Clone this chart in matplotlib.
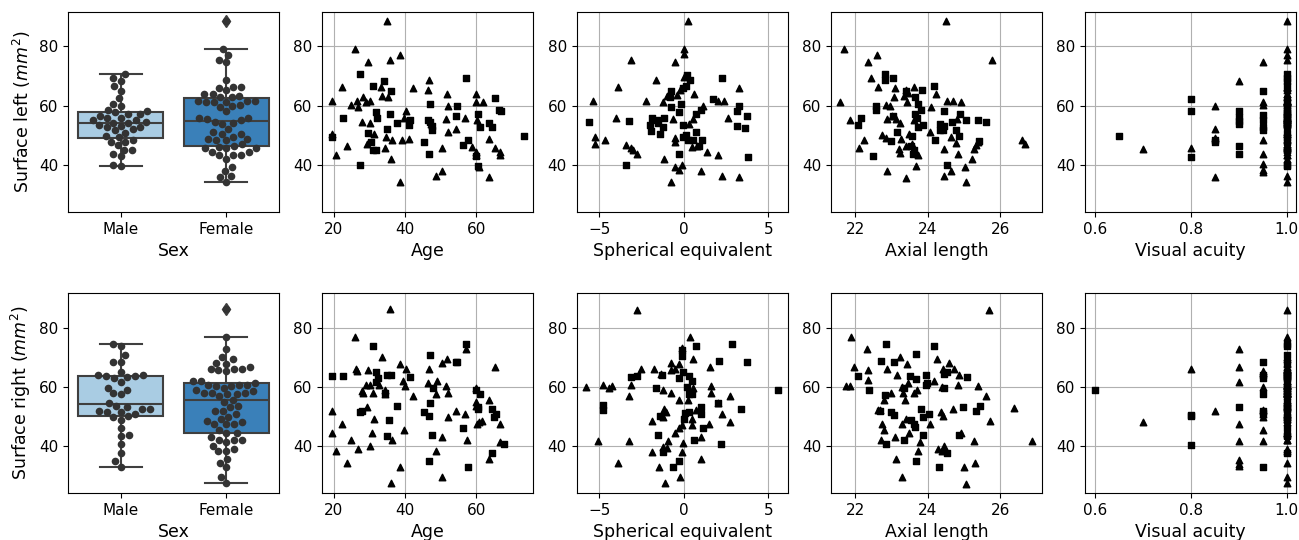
import numpy as np
import matplotlib
matplotlib.use("Agg")
import matplotlib.pyplot as plt
import seaborn as sns

# ---- datos ----
sexes = ["Male", "Female"]

# Superficie izquierda por sexo (fila superior) y edad
age_top_m = [27.2, 27.2, 22.4, 19.5, 30.9, 34.1, 36.0, 31.8, 32.2, 35.7, 34.9, 29.6, 30.5, 30.9,
             31.9, 37.7, 41.3, 41.2, 45.4, 46.8, 47.1, 46.3, 46.9, 47.6, 47.7, 54.2, 54.6, 56.3,
             57.0, 57.8, 59.9, 60.6, 61.1, 60.5, 65.2, 63.6, 64.4, 66.5, 67.0, 73.4]
left_m = [39.8, 70.6, 55.9, 49.4, 66.5, 68.4, 65.0, 57.8, 55.9, 57.1, 51.9, 50.8, 47.7, 45.1,
          45.1, 54.2, 55.0, 53.4, 47.8, 43.7, 60.5, 55.0, 54.4, 53.2, 51.6, 56.6, 59.9, 46.5,
          69.3, 48.3, 42.8, 57.2, 52.7, 39.4, 62.4, 54.2, 52.6, 58.6, 58.3, 49.8]
age_top_f = [34.8, 25.9, 29.6, 38.5, 35.7, 22.2, 19.5, 24.9, 26.5, 26.8, 28.2, 30.1, 29.1, 33.2,
             33.4, 35.2, 27.9, 30.0, 31.3, 29.3, 23.7, 20.5, 19.4, 34.5, 36.2, 34.3, 36.0, 38.6,
             39.2, 40.3, 39.6, 41.0, 42.2, 46.8, 46.5, 47.4, 48.6, 50.4, 50.4, 51.8, 52.0, 51.4,
             52.0, 54.2, 56.9, 58.8, 59.9, 60.0, 60.2, 60.0, 60.0, 60.9, 61.9, 63.6, 63.6, 65.2,
             66.7, 66.6]
left_f = [88.7, 79.2, 74.7, 77.2, 75.5, 66.3, 61.4, 60.1, 61.7, 59.4, 62.9, 61.6, 61.2, 66.3,
          63.4, 62.8, 54.5, 54.1, 50.5, 47.0, 46.4, 43.2, 50.4, 49.4, 48.2, 45.5, 42.0, 34.0,
          48.5, 58.0, 55.7, 48.8, 66.1, 68.5, 65.1, 53.9, 36.1, 37.9, 45.5, 63.9, 59.7, 55.5,
          50.9, 52.1, 55.8, 46.1, 61.1, 63.9, 55.2, 44.2, 43.4, 39.1, 61.1, 48.8, 35.7, 45.6,
          44.3, 43.4]

# Superficie derecha por sexo (fila inferior) y edad
age_bot_m = [19.4, 22.4, 31.1, 31.9, 32.5, 31.7, 34.3, 34.9, 35.9, 27.3, 27.9, 35.6, 34.9, 37.7,
             41.5, 47.1, 45.4, 46.6, 47.0, 47.6, 46.7, 47.8, 54.4, 54.7, 56.3, 57.0, 57.8, 60.0,
             61.1, 60.5, 60.4, 64.5, 64.9, 65.6, 64.5, 67.8]
right_m = [63.5, 63.5, 73.7, 65.0, 62.8, 61.6, 57.7, 63.9, 64.1, 51.5, 51.8, 48.7, 43.3, 53.6,
           63.3, 70.6, 51.5, 50.0, 54.5, 43.8, 34.8, 59.7, 68.4, 68.4, 46.1, 74.4, 32.9, 59.0,
           57.5, 53.2, 52.3, 52.4, 49.8, 50.7, 37.6, 40.6]
age_bot_f = [35.7, 25.9, 33.4, 26.3, 26.6, 29.6, 28.0, 28.3, 29.1, 30.1, 31.1, 32.8, 34.3, 34.4,
             38.5, 39.4, 39.9, 40.3, 42.2, 19.4, 19.5, 20.5, 22.2, 23.7, 24.8, 26.8, 29.3, 31.3,
             30.6, 30.0, 36.2, 39.6, 38.6, 36.0, 46.5, 46.7, 49.1, 48.8, 50.3, 51.8, 51.4, 52.0,
             52.0, 54.2, 50.4, 48.6, 50.4, 56.8, 57.5, 57.0, 59.8, 60.0, 60.2, 60.7, 61.5, 63.6,
             63.6, 65.4, 66.7, 66.6, 60.0]
right_f = [86.2, 76.7, 70.0, 66.0, 65.2, 65.6, 58.6, 57.7, 60.5, 60.7, 57.7, 60.5, 59.0, 57.4,
           67.8, 62.0, 60.3, 65.8, 56.9, 51.8, 44.4, 38.2, 47.3, 34.3, 42.0, 38.9, 53.0, 49.2,
           44.2, 40.0, 42.0, 45.3, 32.9, 27.3, 61.1, 65.8, 61.9, 57.5, 68.1, 69.2, 60.2, 57.9,
           49.8, 51.7, 43.0, 38.2, 29.3, 50.7, 42.0, 72.9, 59.7, 53.4, 47.3, 47.9, 48.3, 55.4,
           35.5, 66.7, 47.3, 41.4, 54.9]

# Equivalente esférico
se_top_m_x = [-5.63, -3.25, -3.39, 2.24, 0.22, 0.37, -0.77, -0.79, -0.75, -0.14, 1.71, 3.29,
              3.13, 3.76, 3.13, 3.62, 3.78, -1.87, -1.59, -1.14, -1.99, -1.54, -1.91, -1.24,
              -1.40, -0.28, -0.04, 0.71, 1.02, -0.02, 0.26, 0.53, 1.08, 0.89, -0.26, 0.14,
              0.75, -0.04, 0.16]
se_top_m_y = [54.3, 54.9, 39.9, 69.3, 70.4, 68.7, 65.0, 62.8, 59.5, 60.6, 62.3, 59.9, 58.1, 56.6,
              53.2, 52.5, 42.6, 55.9, 55.0, 55.8, 53.5, 54.1, 51.5, 52.6, 50.3, 57.7, 53.5, 57.1,
              58.6, 49.2, 48.2, 48.5, 48.2, 46.4, 43.7, 50.1, 50.9, 66.1, 66.7]
se_top_f_x = [0.24, 0.0, 0.0, -3.13, -0.49, -1.63, -3.88, 3.25, -5.37, -2.24, -1.24, -0.96,
              -0.37, -0.22, 0.63, 1.12, 2.38, 2.05, 2.64, -4.02, -0.61, 0.53, 0.33, -5.26, -5.26,
              -4.63, -3.39, -3.11, -3.01, -2.76, -0.49, -0.49, 0.47, 0.77, 1.38, 2.01, -1.14,
              -0.51, -0.26, -0.12, -0.75, 1.0, 2.24, 3.27, 0.02]
se_top_f_y = [88.7, 79.2, 77.4, 75.5, 74.7, 68.5, 66.3, 66.1, 61.4, 61.6, 61.3, 63.1, 63.5, 65.1,
              63.9, 59.7, 61.7, 61.4, 55.8, 55.8, 55.5, 55.4, 53.9, 49.5, 46.9, 48.5, 46.5, 45.5,
              44.8, 43.7, 49.0, 47.6, 46.0, 46.2, 44.2, 43.2, 42.0, 39.1, 38.1, 39.8, 34.0, 37.9,
              36.1, 35.7, 69.5]
se_bot_m_x = [-4.78, -4.78, -3.11, -2.78, -1.28, -1.63, -0.12, -0.12, 0.73, 2.85, 3.74, 2.11,
              5.59, -0.28, -0.02, 0.33, 0.47, 0.18, 0.33, 0.47, 2.01, 3.37, 1.0, 1.0, 0.33,
              0.10, 0.0, 1.12, 0.61, -1.40, -1.54, -1.24, 2.22, -0.26, -0.61]
se_bot_m_y = [53.7, 52.0, 63.3, 63.7, 63.9, 59.6, 72.3, 70.3, 73.7, 74.4, 68.2, 68.6, 59.0, 63.0,
              65.0, 63.5, 61.9, 59.9, 57.4, 57.5, 54.5, 52.4, 53.2, 50.6, 51.5, 51.2, 49.0, 46.1,
              42.1, 50.1, 43.8, 38.0, 40.6, 34.8, 32.9]
se_bot_f_x = [-2.78, 0.37, -0.12, 0.53, -2.50, -1.75, -0.75, -0.75, -0.49, -0.30, 1.56, -5.77,
              -4.78, -4.41, -4.25, -3.13, -3.25, -1.36, -1.24, -0.77, -0.28, 0.26, 0.57, 1.61,
              1.61, 2.74, 2.01, 2.24, 2.74, -1.87, -1.14, -1.04, -1.20, 0.71, 0.51, 0.51, 1.52,
              -0.49, -0.28, -0.12, 1.0, -5.08, -3.25, -1.87, -1.20, -0.91, -1.0, -0.06, -0.12,
              -3.88, -1.48, 1.0, -1.12, -0.22]
se_bot_f_y = [85.9, 76.8, 73.1, 69.2, 66.0, 65.8, 68.1, 65.6, 66.0, 67.5, 66.7, 59.9, 60.7, 59.6,
              60.3, 60.5, 56.9, 64.2, 59.0, 57.9, 55.4, 55.4, 59.7, 60.2, 57.9, 56.8, 54.5, 50.8,
              48.1, 48.3, 52.3, 51.5, 49.8, 52.1, 49.2, 47.0, 47.2, 44.2, 45.9, 47.0, 43.0, 41.7,
              41.7, 38.0, 39.7, 41.7, 39.1, 41.0, 38.0, 34.3, 32.9, 35.4, 27.3, 29.3]

# Longitud axial
al_top_m_x = [22.50, 22.08, 22.15, 22.58, 22.58, 22.83, 22.83, 23.03, 23.04, 22.99, 23.15, 23.40,
              23.65, 23.83, 23.74, 23.81, 23.64, 23.70, 23.73, 23.86, 23.57, 23.54, 23.62, 23.59,
              24.17, 24.21, 24.45, 24.33, 24.45, 24.33, 24.42, 24.68, 24.77, 24.89, 24.85, 25.05,
              25.39, 25.61, 24.54, 25.41]
al_top_m_y = [42.8, 53.3, 55.9, 59.9, 58.4, 70.8, 68.7, 69.3, 56.6, 47.9, 50.9, 64.8, 62.9, 65.1,
              60.6, 58.6, 57.2, 55.8, 52.7, 53.4, 49.6, 46.4, 45.1, 43.7, 66.7, 48.2, 58.0, 53.9,
              53.2, 51.8, 51.8, 54.6, 51.8, 57.2, 49.8, 55.0, 55.0, 54.3, 40.0, 47.9]
al_top_f_x = [24.50, 21.68, 22.61, 22.35, 25.76, 22.43, 22.62, 21.59, 21.86, 22.10, 22.25, 22.86,
              22.95, 23.10, 23.06, 22.87, 23.02, 23.11, 23.22, 22.73, 22.84, 23.27, 23.20, 23.22,
              22.87, 23.40, 23.40, 23.47, 23.33, 23.39, 23.46, 23.44, 23.62, 23.61, 23.72, 23.68,
              23.56, 24.10, 24.06, 24.22, 24.44, 24.53, 24.69, 24.92, 24.80, 24.64, 24.77, 24.83,
              24.64, 24.45, 25.02, 25.05, 25.21, 25.28, 25.33, 25.39, 26.61, 26.68]
al_top_f_y = [88.7, 79.2, 77.2, 74.6, 75.5, 69.4, 66.3, 61.2, 55.2, 45.6, 48.5, 60.3, 59.7, 66.1,
              62.9, 55.4, 56.3, 55.5, 54.1, 50.1, 49.0, 48.7, 45.3, 43.9, 37.7, 35.5, 46.2, 50.5,
              63.3, 65.1, 64.2, 61.2, 66.3, 55.0, 43.2, 39.7, 47.1, 59.4, 50.9, 63.9, 45.4, 61.6,
              61.6, 61.3, 55.5, 49.4, 47.3, 43.7, 37.9, 36.1, 39.1, 34.0, 42.0, 45.4, 46.5, 47.7,
              48.5, 47.0]
al_bot_m_x = [22.08, 22.39, 22.71, 22.86, 23.06, 22.83, 22.69, 22.99, 23.08, 22.85, 23.33, 23.52,
              23.67, 23.67, 23.33, 23.81, 23.53, 23.63, 23.65, 23.88, 24.02, 23.86, 23.96, 23.99,
              23.94, 24.16, 24.45, 24.52, 24.45, 25.09, 24.96, 25.44, 25.33, 24.87, 24.54, 24.31,
              23.68]
al_bot_m_y = [63.5, 59.0, 68.6, 74.4, 68.2, 57.1, 51.8, 51.3, 50.4, 40.6, 42.1, 63.5, 70.9, 62.5,
              59.7, 52.3, 48.7, 47.2, 46.2, 49.8, 50.6, 43.8, 64.1, 61.1, 60.5, 73.7, 64.2, 65.0,
              59.4, 63.3, 53.2, 53.4, 51.7, 43.5, 37.6, 32.9, 34.8]
al_bot_f_x = [25.70, 21.89, 22.32, 21.97, 22.35, 22.34, 21.75, 21.86, 22.87, 23.22, 23.15, 23.44,
              22.98, 22.78, 22.63, 22.69, 23.29, 23.32, 23.37, 23.45, 23.70, 23.63, 23.39, 23.28,
              23.48, 22.74, 22.78, 22.71, 23.10, 23.11, 23.29, 23.72, 23.79, 24.05, 24.18, 24.25,
              24.39, 24.36, 24.42, 24.43, 24.59, 24.73, 24.87, 24.83, 24.69, 24.91, 24.28, 24.45,
              24.39, 25.01, 25.06, 25.27, 25.31, 25.38, 25.60, 25.72, 26.38, 26.89]
al_bot_f_y = [85.9, 76.8, 72.9, 66.7, 65.6, 62.2, 60.2, 60.2, 65.9, 69.9, 64.1, 67.6, 57.9, 55.4,
              52.1, 52.1, 59.9, 57.7, 55.4, 61.1, 59.0, 57.7, 49.2, 47.2, 44.4, 47.3, 45.3, 41.9,
              43.0, 35.5, 29.3, 38.2, 41.1, 47.3, 61.9, 69.2, 59.9, 51.5, 50.0, 65.8, 68.1, 65.8,
              63.9, 60.5, 52.4, 44.2, 38.9, 40.0, 38.2, 32.9, 27.0, 41.7, 34.0, 60.1, 57.0, 48.3,
              52.8, 41.7]

# Agudeza visual
va_top_m_x = [0.65, 0.80, 0.80, 0.80, 0.85, 0.85, 0.90, 0.90, 0.90, 0.90, 0.90, 0.90, 0.95, 0.95,
              0.95, 0.95, 0.95] + [1.0] * 23
va_top_m_y = [49.8, 62.3, 58.0, 42.7, 48.2, 47.5, 58.3, 56.0, 54.8, 53.9, 46.4, 43.5, 65.0, 56.8,
              55.0, 52.7, 51.6, 70.6, 69.3, 68.4, 66.5, 60.5, 59.9, 57.8, 57.2, 57.1, 55.9, 55.9,
              55.0, 54.4, 54.2, 53.4, 53.2, 50.8, 49.4, 47.7, 45.1, 45.1, 39.8, 39.4]
va_top_f_x = [0.70, 0.80, 0.85, 0.85, 0.85, 0.85, 0.90, 0.95, 0.95, 0.95, 0.95, 0.95, 0.95, 0.95,
              0.95] + [1.0] * 43
va_top_f_y = [45.4, 45.6, 59.7, 51.9, 49.0, 35.7, 68.4, 74.6, 61.2, 60.1, 48.2, 43.5, 40.2, 38.2,
              37.6, 88.7, 79.2, 77.2, 75.5, 66.3, 66.3, 66.1, 65.1, 63.9, 63.9, 63.4, 62.9, 62.8,
              61.7, 61.6, 61.4, 61.1, 61.1, 60.1, 59.4, 58.0, 55.8, 55.7, 55.5, 55.2, 54.5, 54.1,
              53.9, 50.9, 50.5, 50.4, 48.8, 48.5, 47.0, 46.4, 46.1, 45.5, 44.3, 43.4, 43.2, 42.0,
              36.1, 34.0]
va_bot_m_x = [0.60, 0.80, 0.80, 0.80, 0.90, 0.95, 0.95, 0.95, 0.95, 0.95, 0.95, 0.95] + [1.0] * 25
va_bot_m_y = [59.0, 50.4, 49.9, 40.3, 53.2, 68.3, 64.1, 63.0, 57.4, 51.8, 51.0, 32.9, 74.4, 73.7,
              70.6, 68.4, 65.0, 63.9, 63.5, 63.5, 63.3, 62.8, 61.6, 59.7, 57.7, 57.5, 54.5, 53.6,
              52.4, 52.3, 50.0, 49.8, 48.7, 46.1, 43.8, 43.3, 37.6]
va_bot_f_x = [0.70, 0.80, 0.85, 0.90, 0.90, 0.90, 0.90, 0.90, 0.90, 0.90, 0.90, 0.95, 0.95, 0.95,
              0.95, 0.95, 0.95, 0.95, 0.95] + [1.0] * 44
va_bot_f_y = [48.2, 65.9, 51.7, 72.9, 66.5, 61.7, 47.3, 41.7, 35.2, 33.9, 33.0, 65.2, 64.5, 59.9,
              52.0, 50.9, 49.6, 45.3, 41.7, 85.9, 76.7, 70.0, 69.2, 68.1, 67.8, 66.7, 66.0, 65.8,
              65.6, 62.0, 61.9, 61.1, 60.7, 60.5, 60.5, 60.3, 60.2, 59.7, 59.0, 58.6, 57.9, 57.7,
              57.7, 57.5, 57.4, 56.9, 55.4, 54.9, 53.4, 53.0, 50.7, 49.8, 49.2, 47.9, 44.4, 44.2,
              42.0, 42.0, 38.9, 38.2, 34.3, 29.3, 27.3]

xticks_cols = [[20, 40, 60], [-5, 0, 5], [22, 24, 26], [0.6, 0.8, 1.0]]

box_colors = ["#a9cce3", "#3a80b9"]
line_col = "#3f3f3f"

fig, axes = plt.subplots(2, 5, figsize=(12.99, 5.4), dpi=100)
plt.subplots_adjust(left=0.0523, right=0.998, top=0.978, bottom=0.087, wspace=0.204, hspace=0.405)

rows = [
    ("Surface left ($mm^2$)", left_m, left_f, [
        ("Age", age_top_m, left_m, age_top_f, left_f),
        ("Spherical equivalent", se_top_m_x, se_top_m_y, se_top_f_x, se_top_f_y),
        ("Axial length", al_top_m_x, al_top_m_y, al_top_f_x, al_top_f_y),
        ("Visual acuity", va_top_m_x, va_top_m_y, va_top_f_x, va_top_f_y),
    ]),
    ("Surface right ($mm^2$)", right_m, right_f, [
        ("Age", age_bot_m, right_m, age_bot_f, right_f),
        ("Spherical equivalent", se_bot_m_x, se_bot_m_y, se_bot_f_x, se_bot_f_y),
        ("Axial length", al_bot_m_x, al_bot_m_y, al_bot_f_x, al_bot_f_y),
        ("Visual acuity", va_bot_m_x, va_bot_m_y, va_bot_f_x, va_bot_f_y),
    ]),
]

for r, (ylab, vals_m, vals_f, panels) in enumerate(rows):
    ax = axes[r, 0]
    bp = ax.boxplot([vals_m, vals_f], positions=[0, 1], widths=0.8, patch_artist=True,
                    medianprops=dict(color=line_col, linewidth=1.5),
                    whiskerprops=dict(color=line_col, linewidth=1.5),
                    capprops=dict(color=line_col, linewidth=1.5),
                    flierprops=dict(marker="d", markerfacecolor=line_col, markeredgecolor=line_col,
                                    markersize=6))
    for patch, c in zip(bp["boxes"], box_colors):
        patch.set_facecolor(c)
        patch.set_edgecolor(line_col)
        patch.set_linewidth(1.5)
    cats = ["Male"] * len(vals_m) + ["Female"] * len(vals_f)
    sns.swarmplot(x=cats, y=list(vals_m) + list(vals_f), order=sexes, color=".2", size=5.5, ax=ax)
    ax.set_xlim(-0.5, 1.5)
    ax.set_xticks([0, 1])
    ax.set_xticklabels(sexes)
    ax.set_xlabel("Sex", fontsize=12.5)
    ax.set_ylabel(ylab, fontsize=12.5)

    for c, (xlab, xm, ym, xf, yf) in enumerate(panels):
        ax = axes[r, c + 1]
        ax.set_axisbelow(True)
        ax.grid(True)
        ax.scatter(xm, ym, marker="s", color="k", s=18)
        ax.scatter(xf, yf, marker="^", color="k", s=22)
        ax.set_xlabel(xlab, fontsize=12.5)

# mismas escalas por columna
for c in range(1, 5):
    axes[1, c].sharex(axes[0, c])
    axes[0, c].autoscale(axis="x")
    for r in range(2):
        axes[r, c].set_xticks(xticks_cols[c - 1])

for ax in axes.flat:
    ax.set_ylim(24, 91.7)
    ax.set_yticks([40, 60, 80])
    ax.tick_params(labelsize=11)

fig.savefig("out.png", dpi=100)
